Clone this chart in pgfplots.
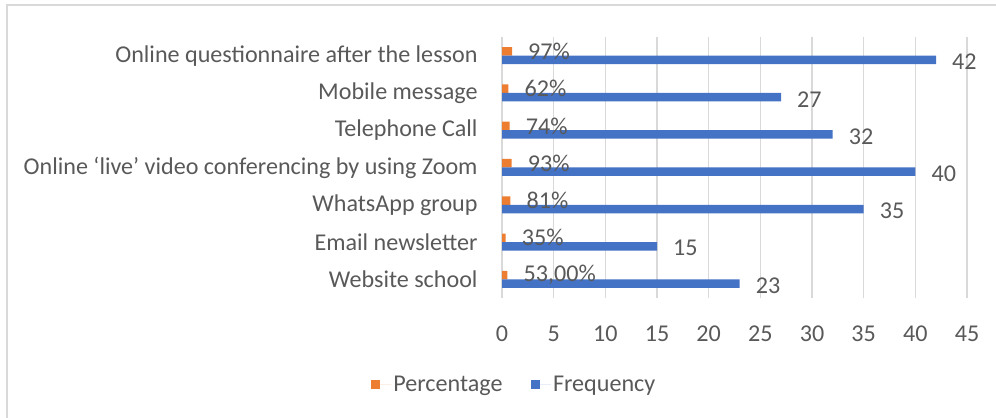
\documentclass[border=0pt]{standalone}
\usepackage{pgfplots}
\pgfplotsset{compat=1.18}
\usepackage{fontspec}
\setmainfont{Carlito}
\definecolor{txt}{HTML}{595959}
\definecolor{grd}{HTML}{D9D9D9}
\definecolor{orng}{HTML}{ED7D31}
\definecolor{blu}{HTML}{4472C4}
\begin{document}
\begin{tikzpicture}[font=\fontsize{24.2}{28}\selectfont]
\useasboundingbox (0bp,0bp) rectangle (996bp,418bp);
\draw[grd, line width=1.5bp] (7bp,0bp) -- (7bp,413bp) -- (996bp,413bp);
\begin{axis}[
 at={(502bp,120bp)}, anchor=south west,
 scale only axis, width=465bp, height=261bp,
 xbar, bar width=8.5bp,
 xmin=0, xmax=45, ymin=-0.5, ymax=6.5,
 xtick={0,5,...,45},
 ytick={0,...,6},
 yticklabels={Website school, Email newsletter, WhatsApp group, Online ‘live’ video conferencing by using Zoom, Telephone Call, Mobile message, Online questionnaire after the lesson},
 xmajorgrids, major grid style={grd, line width=1.5bp},
 axis line style={draw=none},
 tick style={draw=none},
 ticklabel style={text=txt},
 /pgf/number format/assume math mode=true,
 yticklabel style={anchor=east, inner sep=0pt, xshift=-20bp},
 xticklabel style={anchor=north, inner sep=0pt, yshift=-28bp},
 legend style={at={(axis description cs:0.026,-0.33)}, anchor=center, draw=none, fill=none, text=txt, inner sep=0pt,
   /tikz/every even column/.append style={column sep=26bp}},
 legend columns=2,
]
\addplot[fill=orng, draw=none, bar shift=4.25bp, nodes near coords, point meta=explicit symbolic,
  every node near coord/.append style={anchor=west, inner sep=0pt, xshift=16bp, text=txt},
  legend image code/.code={\fill[orng] (0bp,-4.5bp) rectangle (9bp,4.5bp); \path (0bp,0bp) -- (20.5bp,0bp);}]
  coordinates {(0.53,0) [{53,00\%}] (0.35,1) [35\%] (0.81,2) [81\%] (0.93,3) [93\%] (0.74,4) [74\%] (0.62,5) [62\%] (0.97,6) [97\%]};
\addplot[fill=blu, draw=none, bar shift=-4.25bp, nodes near coords,
  every node near coord/.append style={anchor=west, inner sep=0pt, xshift=16bp, yshift=-2bp, text=txt},
  legend image code/.code={\fill[blu] (0bp,-4.5bp) rectangle (9bp,4.5bp); \path (0bp,0bp) -- (20.5bp,0bp);}]
  coordinates {(23,0) (15,1) (35,2) (40,3) (32,4) (27,5) (42,6)};
\legend{Percentage, Frequency}
\end{axis}
\end{tikzpicture}
\end{document}
